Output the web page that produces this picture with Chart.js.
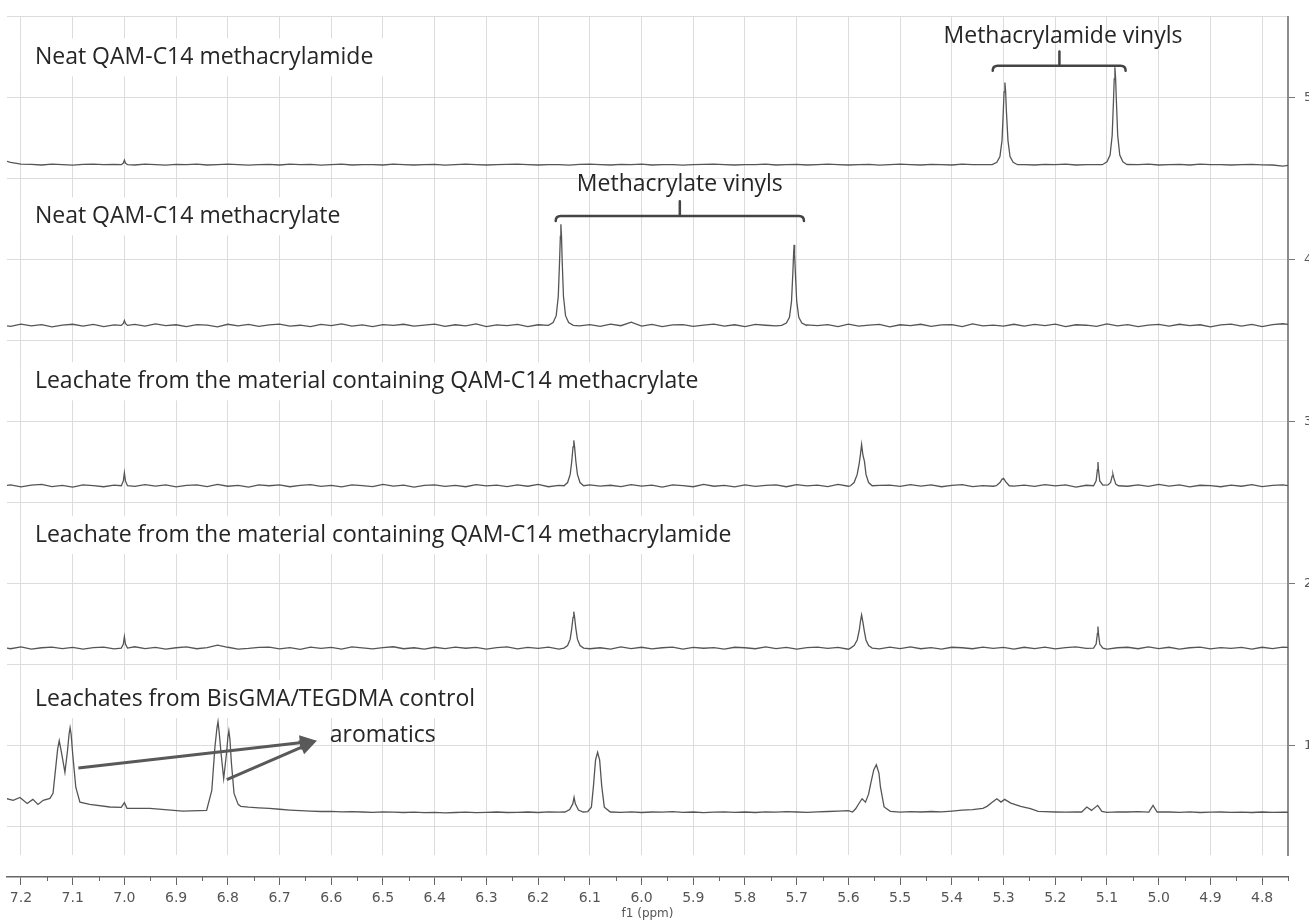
<!DOCTYPE html>
<html>
<head>
<meta charset="utf-8">
<script src="https://cdn.jsdelivr.net/npm/chart.js@4.4.0/dist/chart.umd.min.js"></script>
<style>
  html, body { margin: 0; padding: 0; background: #fff; overflow: hidden; }
  #wrap { position: absolute; left: 0; top: 0; width: 1318px; height: 923px; }
</style>
</head>
<body>
<div id="wrap"><canvas id="nmr" width="1318" height="923"></canvas></div>
<script>
// spectrum titles, top to bottom
const titles = [
  "Neat QAM-C14 methacrylamide",
  "Neat QAM-C14 methacrylate",
  "Leachate from the material containing QAM-C14 methacrylate",
  "Leachate from the material containing QAM-C14 methacrylamide",
  "Leachates from BisGMA/TEGDMA control"
];

// vertical offset of each trace (in y-axis units)
const baselines = [4.587, 3.595, 2.605, 1.603, 0.591];

// baseline noise, thousandths of a unit, sampled every 0.02 ppm from 7.24 down to 4.74
const gridStart = 7.24;
const gridStep = 0.02;

const noise1 = [
  30, 15, 3, 2, -2, 3, 0, -3, 2, 4,
  0, 2, 0, -2, 3, 0, -3, 2, 0, 3,
  -2, 0, 3, 1, -3, 0, 2, -2, 3, 0,
  2, -3, 0, 3, -2, 1, 0, -2, 3, 1,
  -2, 0, 2, -3, 0, 3, 1, -2, 0, 2,
  3, 0, -2, 1, 0, -3, 2, 3, 0, -2,
  2, 0, 3, -2, 0, 1, -3, 0, 2, 3,
  0, -2, 1, 0, 3, -2, 0, 2, -2, 0,
  3, 1, -2, 0, 2, -3, 0, 3, 0, -2,
  2, 0, -2, 3, 0, 1, -2, 0, 3, 0,
  -2, 2, 0, 3, -2, 0, 1, 0, -3, 2,
  0, 3, -2, 0, 2, -2, 3, 0, 1, -2,
  0, 2, -1, -2, -9, 0
];
const noise2 = [
  4, -6, 8, -3, 5, -9, 2, 7, -4, 6,
  -8, 3, 0, 6, -5, 9, -2, 4, -7, 5,
  2, -9, 7, -3, 6, -6, 3, 8, -5, 1,
  -7, 6, -2, 9, -4, 3, -8, 5, 0, 7,
  -5, 2, 8, -6, 4, -3, 9, -7, 3, -1,
  6, -8, 4, 2, -5, 7, -3, 5, -6, 8,
  -2, 20, -4, 6, -7, 3, 5, -6, 2, 8,
  -5, 4, -8, 6, 1, -3, 7, -6, 3, -2,
  5, -7, 8, -4, 2, 6, -9, 4, -1, 7,
  -6, 3, 5, -8, 9, -3, 2, -5, 7, -4,
  6, -2, 8, -7, 4, 1, -6, 9, -3, 5,
  -8, 2, 6, -5, 7, -1, 4, -9, 3, 8,
  -4, 6, -7, 5, 10, 2
];
const noise3 = [
  -3, 5, -7, 4, 8, -5, 2, -8, 6, 1,
  -6, 4, 0, -4, 7, -2, 5, -7, 3, 6,
  -5, 8, -3, 2, -8, 6, 0, 5, -6, 3,
  7, -4, 2, -7, 5, 1, -5, 8, -2, 4,
  -8, 3, 6, -4, 2, -6, 7, -1, 4, -5,
  5, -3, 8, -6, 2, 4, -7, 6, -2, 3,
  -5, 7, -2, 4, -8, 5, 1, -6, 8, -3,
  2, -7, 6, -4, 3, 5, -6, 7, -1, 4,
  -5, 8, -3, 6, -7, 2, 4, -4, 7, -2,
  5, -6, 3, 7, -5, 1, -3, 6, -2, 4,
  -4, 7, -1, 5, -8, 3, 6, -5, 2, -3,
  6, -4, 8, -2, 5, -7, 3, 1, -6, 4,
  -3, 7, -5, 2, 6, -4
];
const noise4 = [
  5, -4, 7, -6, 2, 6, -3, 4, -7, 3,
  6, -5, 0, 8, -3, 4, -6, 2, 7, -4,
  3, 18, 5, -6, -2, 4, 6, -5, 3, -8,
  6, -2, 4, -6, 7, 1, -5, 3, 8, -4,
  2, -7, 5, -3, 6, -1, 4, -6, 3, 7,
  -5, 4, -2, 6, -7, 3, 5, -4, 2, -6,
  7, -3, 5, -5, 2, 6, -7, 4, -1, 3,
  -6, 5, 2, -4, 7, -3, 4, -6, 3, 6,
  -2, 4, -7, 5, 1, -5, 6, -3, 7, -4,
  3, -6, 5, 2, -4, 6, -2, 4, -7, 5,
  -3, 6, -5, 3, 7, -2, 4, -6, 2, 5,
  -4, 7, -3, 5, -6, 2, 6, -5, 3, -2,
  4, -6, 5, -3, 6, 2
];
const noise5 = [
  0, 0, 0, 0, 0, 0, 0, 0, 0, 0,
  0, 0, 0, 0, 0, 0, 0, 0, 0, 0,
  0, 0, 0, 0, 30, 26, 22, 17, 12, 8,
  5, 3, 4, 1, 2, 0, -2, 1, -1, -3,
  -1, -4, -2, -5, -3, -1, -4, -2, 0, -3,
  -2, 0, -3, 1, -1, 0, -2, 0, 0, 0,
  -2, 1, -3, 0, -1, 2, -2, 0, -4, -1,
  1, -2, 0, -3, 1, -1, 2, 0, -2, 1,
  3, 5, 8, 0, 0, 0, 0, -1, 2, 0,
  3, 1, 6, 12, 15, 22, 0, 0, 0, 0,
  0, 2, 0, -1, 1, 0, 0, -2, 1, 0,
  2, -1, 1, 0, -2, 1, -3, -1, 0, -2,
  -1, -3, 0, -2, -1, -2
];

// signals: [ppm, height above the trace baseline]
const peaks1 = [
  [[7.006, 0], [7.002, 0.01], [7.000, 0.028], [6.998, 0.01], [6.994, 0]],
  [[5.322, 0], [5.313, 0.015], [5.307, 0.05], [5.303, 0.15], [5.3005, 0.33], [5.299, 0.45], [5.2974, 0.507],
   [5.296, 0.45], [5.2945, 0.33], [5.2915, 0.15], [5.2875, 0.05], [5.2815, 0.015], [5.273, 0]],
  [[5.109, 0], [5.100, 0.018], [5.094, 0.06], [5.090, 0.18], [5.0875, 0.39], [5.086, 0.53], [5.0847, 0.601],
   [5.0833, 0.53], [5.0818, 0.39], [5.0793, 0.18], [5.0753, 0.06], [5.0693, 0.018], [5.061, 0]]
];
const peaks2 = [
  [[7.006, 0], [7.002, 0.012], [7.000, 0.03], [6.998, 0.012], [6.994, 0]],
  [[6.180, 0], [6.171, 0.018], [6.165, 0.06], [6.161, 0.18], [6.1585, 0.40], [6.157, 0.55], [6.156, 0.624],
   [6.1548, 0.55], [6.1535, 0.40], [6.151, 0.18], [6.147, 0.06], [6.141, 0.018], [6.132, 0]],
  [[5.729, 0], [5.720, 0.015], [5.714, 0.05], [5.710, 0.15], [5.7075, 0.32], [5.706, 0.44], [5.705, 0.497],
   [5.704, 0.44], [5.7025, 0.32], [5.700, 0.15], [5.696, 0.05], [5.690, 0.015], [5.681, 0]]
];
const peaks3 = [
  [[7.006, 0], [7.002, 0.03], [7.000, 0.08], [6.998, 0.03], [6.994, 0]],
  [[6.150, 0], [6.143, 0.02], [6.138, 0.07], [6.135, 0.15], [6.1325, 0.24], [6.131, 0.28], [6.1295, 0.24],
   [6.127, 0.15], [6.124, 0.07], [6.119, 0.02], [6.112, 0]],
  [[5.596, 0], [5.589, 0.02], [5.583, 0.07], [5.579, 0.14], [5.5765, 0.20], [5.5745, 0.255], [5.572, 0.19],
   [5.569, 0.15], [5.566, 0.07], [5.561, 0.02], [5.554, 0]],
  [[5.314, 0], [5.307, 0.02], [5.303, 0.04], [5.300, 0.045], [5.296, 0.025], [5.289, 0]],
  [[5.126, 0], [5.121, 0.03], [5.1185, 0.10], [5.1175, 0.147], [5.1165, 0.10], [5.114, 0.03], [5.108, 0.004],
   [5.098, 0.005], [5.093, 0.02], [5.090, 0.06], [5.0885, 0.071], [5.087, 0.05], [5.083, 0.01], [5.078, 0]]
];
const peaks4 = [
  [[7.006, 0], [7.002, 0.025], [7.000, 0.07], [6.998, 0.025], [6.994, 0]],
  [[6.150, 0], [6.143, 0.016], [6.138, 0.055], [6.135, 0.12], [6.1325, 0.19], [6.131, 0.225], [6.1295, 0.19],
   [6.127, 0.12], [6.124, 0.055], [6.119, 0.016], [6.112, 0]],
  [[5.596, 0], [5.589, 0.016], [5.583, 0.05], [5.579, 0.11], [5.5765, 0.17], [5.5745, 0.205], [5.572, 0.16],
   [5.569, 0.10], [5.566, 0.05], [5.561, 0.016], [5.554, 0]],
  [[5.126, 0], [5.121, 0.025], [5.1185, 0.09], [5.1175, 0.133], [5.1165, 0.09], [5.114, 0.025], [5.108, 0]]
];
const peaks5 = [
  [[7.240, 0.085], [7.227, 0.082], [7.215, 0.072], [7.202, 0.090], [7.188, 0.053], [7.177, 0.078], [7.167, 0.047],
   [7.157, 0.072], [7.144, 0.084], [7.138, 0.115], [7.132, 0.299], [7.129, 0.39], [7.126, 0.440], [7.123, 0.39],
   [7.120, 0.337], [7.115, 0.245], [7.110, 0.378], [7.107, 0.48], [7.105, 0.521], [7.103, 0.48], [7.100, 0.360],
   [7.094, 0.153], [7.086, 0.061], [7.067, 0.047], [7.028, 0.031], [7.006, 0.029], [7.000, 0.058], [6.995, 0.023],
   [6.951, 0.023], [6.887, 0.006], [6.841, 0.010], [6.831, 0.133], [6.825, 0.399], [6.821, 0.52], [6.819, 0.558],
   [6.817, 0.50], [6.813, 0.360], [6.808, 0.207], [6.802, 0.378], [6.800, 0.46], [6.798, 0.501], [6.796, 0.45],
   [6.793, 0.299], [6.788, 0.115], [6.780, 0.047], [6.775, 0.035]],
  [[6.148, 0], [6.139, 0.015], [6.133, 0.05], [6.1305, 0.09], [6.128, 0.05], [6.122, 0.012], [6.113, 0]],
  [[6.104, 0.003], [6.097, 0.03], [6.093, 0.16], [6.089, 0.32], [6.085, 0.368], [6.081, 0.32], [6.077, 0.16], [6.072, 0.03], [6.062, 0.004]],
  [[5.592, 0], [5.586, 0.02], [5.580, 0.051], [5.5735, 0.082], [5.567, 0.061], [5.561, 0.11], [5.557, 0.174],
   [5.551, 0.26], [5.546, 0.292], [5.541, 0.24], [5.538, 0.153], [5.531, 0.031], [5.519, 0.004]],
  [[5.332, 0.035], [5.322, 0.06], [5.313, 0.082], [5.305, 0.061], [5.298, 0.078], [5.286, 0.055], [5.267, 0.035], [5.248, 0.021], [5.233, 0.004]],
  [[5.149, 0], [5.139, 0.031], [5.130, 0.010], [5.118, 0.041], [5.110, 0.004]],
  [[5.019, 0], [5.011, 0.041], [5.003, 0]]
];

const yTicks = [1, 2, 3, 4, 5];

const X_MAX = 7.227, X_MIN = 4.75;
const Y_MAX = 5.5, Y_MIN = 0.3256;

function buildSpectrum(base, noise, peaks) {
  const pts = [];
  noise.forEach((v, i) => {
    const ppm = gridStart - i * gridStep;
    const inPeak = peaks.some(g => ppm <= g[0][0] && ppm >= g[g.length - 1][0]);
    if (!inPeak) pts.push({ x: ppm, y: base + v / 1000 });
  });
  peaks.forEach(g => g.forEach(p => pts.push({ x: p[0], y: base + p[1] })));
  pts.sort((a, b) => b.x - a.x);
  return pts;
}

const spectra = [
  buildSpectrum(baselines[0], noise1, peaks1),
  buildSpectrum(baselines[1], noise2, peaks2),
  buildSpectrum(baselines[2], noise3, peaks3),
  buildSpectrum(baselines[3], noise4, peaks4),
  buildSpectrum(baselines[4], noise5, peaks5)
];

// where the texts sit (ppm, y units)
const titleSpots = [[7.173, 5.249], [7.173, 4.268], [7.173, 3.250], [7.173, 2.300], [7.173, 1.288]];
const TEXT_FONT = '23px "Open Sans"';
const TEXT_COLOR = '#262626';

const labelsPlugin = {
  id: 'nmrLabels',
  beforeDatasetsDraw(chart) {
    const { ctx, scales: { x, y } } = chart;
    ctx.save();
    ctx.font = TEXT_FONT;
    ctx.textBaseline = 'middle';
    ctx.textAlign = 'left';
    titles.forEach((t, i) => {
      const px = x.getPixelForValue(titleSpots[i][0]);
      const py = y.getPixelForValue(titleSpots[i][1]);
      const w = ctx.measureText(t).width;
      ctx.fillStyle = '#fff';
      ctx.fillRect(px - 14, py - 19, w + 24, 38);
      ctx.fillStyle = TEXT_COLOR;
      ctx.fillText(t, px, py);
    });
    ctx.restore();
  },
  afterDatasetsDraw(chart) {
    const { ctx, scales: { x, y } } = chart;
    const px = v => x.getPixelForValue(v);
    const py = v => y.getPixelForValue(v);
    ctx.save();
    ctx.font = TEXT_FONT;
    ctx.fillStyle = TEXT_COLOR;
    ctx.textBaseline = 'middle';
    ctx.textAlign = 'center';
    ctx.fillText('Methacrylamide vinyls', px(5.185), py(5.380));
    ctx.fillText('Methacrylate vinyls', px(5.926), py(4.464));
    ctx.textAlign = 'left';
    ctx.fillText('aromatics', px(6.603), py(1.061));

    // brackets over the vinyl pairs
    function bracket(a, b, mid, yv, topv) {
      const x1 = px(a), x2 = px(b), xm = px(mid), yy = py(yv), yt = py(topv);
      ctx.strokeStyle = '#444';
      ctx.lineWidth = 2.5;
      ctx.lineCap = 'round';
      ctx.beginPath();
      ctx.moveTo(x1, yy + 5);
      ctx.quadraticCurveTo(x1, yy, x1 + 5, yy);
      ctx.lineTo(x2 - 5, yy);
      ctx.quadraticCurveTo(x2, yy, x2, yy + 5);
      ctx.moveTo(xm, yy);
      ctx.lineTo(xm, yt);
      ctx.stroke();
    }
    bracket(5.321, 5.064, 5.192, 5.198, 5.286);
    bracket(6.166, 5.686, 5.926, 4.270, 4.362);

    // arrows to "aromatics"
    function arrow(a, av, b, bv) {
      const x1 = px(a), y1 = py(av), x2 = px(b), y2 = py(bv);
      const ang = Math.atan2(y2 - y1, x2 - x1);
      const len = 17, half = 7.5;
      const bx = x2 - len * Math.cos(ang), by = y2 - len * Math.sin(ang);
      ctx.strokeStyle = '#595959';
      ctx.fillStyle = '#595959';
      ctx.lineWidth = 3;
      ctx.lineCap = 'butt';
      ctx.beginPath();
      ctx.moveTo(x1, y1);
      ctx.lineTo(bx, by);
      ctx.stroke();
      ctx.beginPath();
      ctx.moveTo(x2, y2);
      ctx.lineTo(bx + half * Math.sin(ang), by - half * Math.cos(ang));
      ctx.lineTo(bx - half * Math.sin(ang), by + half * Math.cos(ang));
      ctx.closePath();
      ctx.fill();
    }
    arrow(7.089, 0.863, 6.628, 1.031);
    arrow(6.802, 0.791, 6.628, 1.031);
    ctx.restore();
  }
};

// short minor ticks half way between the labelled ones
const minorTicks = {
  id: 'minorTicks',
  afterDraw(chart) {
    const { ctx } = chart;
    const x = chart.scales.x;
    ctx.save();
    ctx.strokeStyle = '#666';
    ctx.lineWidth = 1;
    for (let k = 0; k < 25; k++) {
      const v = 4.75 + k * 0.1;
      const xp = Math.round(x.getPixelForValue(v)) + 0.5;
      ctx.beginPath();
      ctx.moveTo(xp, x.top);
      ctx.lineTo(xp, x.top + 4);
      ctx.stroke();
    }
    ctx.restore();
  }
};

new Chart(document.getElementById('nmr'), {
  type: 'line',
  data: {
    datasets: spectra.map((pts, i) => ({
      label: titles[i],
      data: pts,
      borderColor: '#555',
      borderWidth: 1.3,
      pointRadius: 0,
      tension: 0,
      fill: false
    }))
  },
  options: {
    responsive: false,
    animation: false,
    devicePixelRatio: 1,
    parsing: false,
    layout: { padding: { left: 7, top: 11, right: 0, bottom: 0 } },
    plugins: { legend: { display: false }, tooltip: { enabled: false } },
    scales: {
      xg: {
        type: 'linear', position: 'bottom', reverse: true, min: X_MIN, max: X_MAX, weight: 0,
        ticks: { display: false, stepSize: 0.1, includeBounds: false },
        grid: { color: '#dcdcdc', lineWidth: 1, drawTicks: false, tickLength: 0 },
        border: { display: false },
        afterFit: s => { s.height = 22; }
      },
      x: {
        type: 'linear', position: 'bottom', reverse: true, min: X_MIN, max: X_MAX, weight: 1,
        ticks: {
          stepSize: 0.1, includeBounds: false, autoSkip: false, maxRotation: 0, padding: 5,
          color: '#555', font: { family: 'DejaVu Sans', size: 14 },
          callback: v => v.toFixed(1)
        },
        grid: { drawOnChartArea: false, tickLength: 8, tickColor: '#666', tickWidth: 1 },
        border: { display: true, color: '#666', width: 1.5 },
        title: {
          display: true, text: 'f1 (ppm)', color: '#555',
          font: { family: 'DejaVu Sans', size: 12 }, padding: { top: 0, bottom: 2 }
        },
        afterFit: s => { s.height = 46; }
      },
      y: {
        type: 'linear', position: 'right', min: Y_MIN, max: Y_MAX,
        ticks: {
          stepSize: 0.5, includeBounds: false, padding: 9, color: '#555',
          font: { family: 'DejaVu Sans', size: 13 },
          callback: v => yTicks.includes(v) ? String(v) : ''
        },
        grid: {
          color: '#dcdcdc', tickLength: 7,
          tickColor: c => yTicks.includes(c.tick.value) ? '#777' : 'rgba(0,0,0,0)'
        },
        border: { display: true, color: '#8c8c8c', width: 2 },
        afterFit: s => { s.width = 30; }
      }
    }
  },
  plugins: [labelsPlugin, minorTicks]
});
</script>
</body>
</html>
